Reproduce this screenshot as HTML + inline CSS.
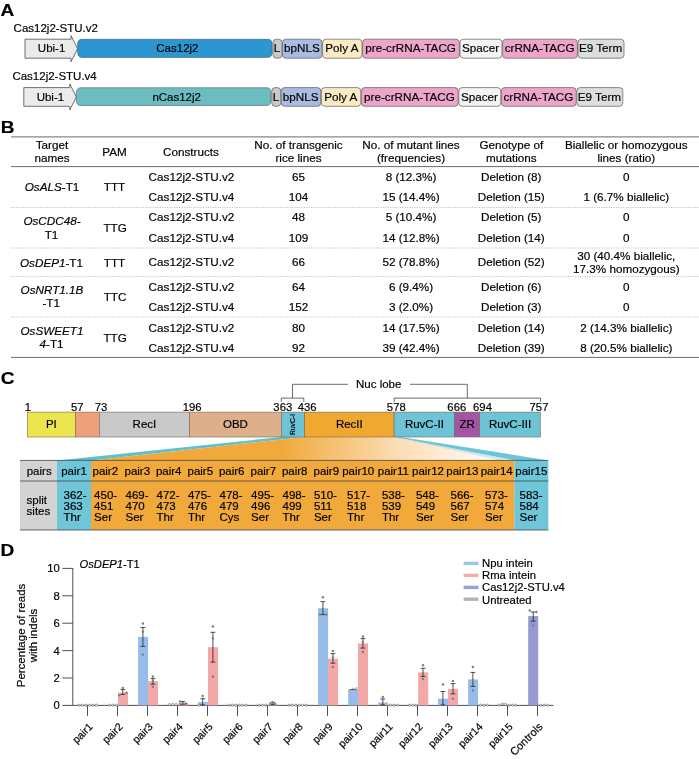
<!DOCTYPE html>
<html><head><meta charset="utf-8"><title>Figure</title>
<style>
html,body{margin:0;padding:0;background:#fff;}
svg{display:block;font-family:"Liberation Sans",Arial,sans-serif;fill:#111;}
svg text{fill:#000;stroke:#000;stroke-width:0.18px;}
</style></head><body>
<svg width="699" height="759" viewBox="0 0 699 759">
<rect x="0" y="0" width="699" height="759" fill="#ffffff"/>
<g id="secA">
<text font-size="16.3" font-weight="bold" transform="translate(0.5,16) scale(1.17,1)">A</text>
<text x="13.6" y="32" font-size="11.5" text-anchor="start" >Cas12j2-STU.v2</text>
<path d="M25,39.2 L71,39.2 L71,35.6 L77.6,48.7 L71,61.800000000000004 L71,58.2 L25,58.2 Z" fill="#ebebeb" stroke="#444" stroke-width="0.75" stroke-linejoin="miter"/>
<text x="51.6" y="52.4" font-size="11.5" text-anchor="middle" >Ubi-1</text>
<rect x="77.6" y="39.300000000000004" width="194.6" height="18.1" rx="4" ry="4.5" fill="#2b96d0" stroke="#3a4a52" stroke-width="0.5"/>
<text x="177.4" y="52.4" font-size="11.5" text-anchor="middle" >Cas12j2</text>
<rect x="273" y="39.2" width="9" height="19.0" rx="3.4" fill="#c9c9c9" stroke="#5c5c5c" stroke-width="0.7"/>
<text x="277.1" y="52.4" font-size="11.7" text-anchor="middle" >L</text>
<rect x="282.5" y="39.2" width="39.5" height="19.0" rx="3.4" fill="#a9bbe0" stroke="#5c5c5c" stroke-width="0.7"/>
<text x="301.85" y="52.4" font-size="11.7" text-anchor="middle" >bpNLS</text>
<rect x="322.6" y="39.2" width="39.39999999999998" height="19.0" rx="3.4" fill="#f9ebc3" stroke="#5c5c5c" stroke-width="0.7"/>
<text x="341.90000000000003" y="52.4" font-size="11.7" text-anchor="middle" >Poly A</text>
<rect x="362.6" y="39.2" width="96.79999999999995" height="19.0" rx="3.4" fill="#eda6c9" stroke="#5c5c5c" stroke-width="0.7"/>
<text x="410.6" y="52.4" font-size="11.7" text-anchor="middle" >pre-crRNA-TACG</text>
<rect x="460" y="39.2" width="42" height="19.0" rx="3.4" fill="#f3f3f1" stroke="#5c5c5c" stroke-width="0.7"/>
<text x="480.6" y="52.4" font-size="11.7" text-anchor="middle" >Spacer</text>
<rect x="502.6" y="39.2" width="74.79999999999995" height="19.0" rx="3.4" fill="#eda6c9" stroke="#5c5c5c" stroke-width="0.7"/>
<text x="539.6" y="52.4" font-size="11.7" text-anchor="middle" >crRNA-TACG</text>
<rect x="578" y="39.2" width="46" height="19.0" rx="3.4" fill="#dcdedd" stroke="#5c5c5c" stroke-width="0.7"/>
<text x="600.6" y="52.4" font-size="11.7" text-anchor="middle" >E9 Term</text>
<text x="12.4" y="79.7" font-size="11.5" text-anchor="start" >Cas12j2-STU.v4</text>
<path d="M23.8,87.6 L69.8,87.6 L69.8,84.0 L76.39999999999999,96.94999999999999 L69.8,109.89999999999999 L69.8,106.3 L23.8,106.3 Z" fill="#ebebeb" stroke="#444" stroke-width="0.75" stroke-linejoin="miter"/>
<text x="50.4" y="100.6" font-size="11.5" text-anchor="middle" >Ubi-1</text>
<rect x="76.39999999999999" y="87.69999999999999" width="194.6" height="17.800000000000004" rx="4" ry="4.5" fill="#6cbdc1" stroke="#3a4a52" stroke-width="0.5"/>
<text x="176.68" y="100.6" font-size="11.5" text-anchor="middle" >nCas12j2</text>
<rect x="271.8" y="87.6" width="9" height="18.700000000000003" rx="3.4" fill="#c9c9c9" stroke="#5c5c5c" stroke-width="0.7"/>
<text x="275.90000000000003" y="100.6" font-size="11.7" text-anchor="middle" >L</text>
<rect x="281.3" y="87.6" width="39.5" height="18.700000000000003" rx="3.4" fill="#a9bbe0" stroke="#5c5c5c" stroke-width="0.7"/>
<text x="300.65000000000003" y="100.6" font-size="11.7" text-anchor="middle" >bpNLS</text>
<rect x="321.40000000000003" y="87.6" width="39.39999999999998" height="18.700000000000003" rx="3.4" fill="#f9ebc3" stroke="#5c5c5c" stroke-width="0.7"/>
<text x="340.70000000000005" y="100.6" font-size="11.7" text-anchor="middle" >Poly A</text>
<rect x="361.40000000000003" y="87.6" width="96.79999999999995" height="18.700000000000003" rx="3.4" fill="#eda6c9" stroke="#5c5c5c" stroke-width="0.7"/>
<text x="409.40000000000003" y="100.6" font-size="11.7" text-anchor="middle" >pre-crRNA-TACG</text>
<rect x="458.8" y="87.6" width="42" height="18.700000000000003" rx="3.4" fill="#f3f3f1" stroke="#5c5c5c" stroke-width="0.7"/>
<text x="479.40000000000003" y="100.6" font-size="11.7" text-anchor="middle" >Spacer</text>
<rect x="501.40000000000003" y="87.6" width="74.79999999999995" height="18.700000000000003" rx="3.4" fill="#eda6c9" stroke="#5c5c5c" stroke-width="0.7"/>
<text x="538.4" y="100.6" font-size="11.7" text-anchor="middle" >crRNA-TACG</text>
<rect x="576.8" y="87.6" width="46" height="18.700000000000003" rx="3.4" fill="#dcdedd" stroke="#5c5c5c" stroke-width="0.7"/>
<text x="599.4" y="100.6" font-size="11.7" text-anchor="middle" >E9 Term</text>
</g>
<g id="secB">
<text font-size="16.3" font-weight="bold" transform="translate(0.7,133) scale(1.17,1)">B</text>
<line x1="11" x2="699" y1="136.9" y2="136.9" stroke="#505050" stroke-width="0.85"/>
<line x1="11" x2="699" y1="166.6" y2="166.6" stroke="#505050" stroke-width="0.85"/>
<line x1="11" x2="699" y1="357.4" y2="357.4" stroke="#505050" stroke-width="0.85"/>
<line x1="11" x2="699" y1="207.5" y2="207.5" stroke="#aaa" stroke-width="0.7" stroke-dasharray="1.2,1.2"/>
<line x1="11" x2="699" y1="248.0" y2="248.0" stroke="#aaa" stroke-width="0.7" stroke-dasharray="1.2,1.2"/>
<line x1="11" x2="699" y1="276.6" y2="276.6" stroke="#aaa" stroke-width="0.7" stroke-dasharray="1.2,1.2"/>
<line x1="11" x2="699" y1="317.0" y2="317.0" stroke="#aaa" stroke-width="0.7" stroke-dasharray="1.2,1.2"/>
<text x="52" y="149.1" font-size="11.7" text-anchor="middle" >Target</text>
<text x="52" y="162.3" font-size="11.7" text-anchor="middle" >names</text>
<text x="114.5" y="155.9" font-size="11.7" text-anchor="middle" >PAM</text>
<text x="191" y="156.1" font-size="11.7" text-anchor="middle" >Constructs</text>
<text x="298.5" y="149.2" font-size="11.7" text-anchor="middle" >No. of transgenic</text>
<text x="298.5" y="162.3" font-size="11.7" text-anchor="middle" >rice lines</text>
<text x="411" y="149.2" font-size="11.7" text-anchor="middle" >No. of mutant lines</text>
<text x="411" y="162.3" font-size="11.7" text-anchor="middle" >(frequencies)</text>
<text x="511.3" y="149.2" font-size="11.7" text-anchor="middle" >Genotype of</text>
<text x="511.3" y="162.3" font-size="11.7" text-anchor="middle" >mutations</text>
<text x="626.3" y="149.2" font-size="11.7" text-anchor="middle" >Biallelic or homozygous</text>
<text x="626.3" y="162.3" font-size="11.7" text-anchor="middle" >lines (ratio)</text>
<text x="148.6" y="180.7" font-size="11.7" text-anchor="start" >Cas12j2-STU.v2</text>
<text x="298.5" y="180.7" font-size="11.7" text-anchor="middle" >65</text>
<text x="411" y="180.7" font-size="11.7" text-anchor="middle" >8 (12.3%)</text>
<text x="511.3" y="180.7" font-size="11.7" text-anchor="middle" >Deletion (8)</text>
<text x="626.3" y="180.7" font-size="11.7" text-anchor="middle" >0</text>
<text x="148.6" y="200.7" font-size="11.7" text-anchor="start" >Cas12j2-STU.v4</text>
<text x="298.5" y="200.7" font-size="11.7" text-anchor="middle" >104</text>
<text x="411" y="200.7" font-size="11.7" text-anchor="middle" >15 (14.4%)</text>
<text x="511.3" y="200.7" font-size="11.7" text-anchor="middle" >Deletion (15)</text>
<text x="626.3" y="200.7" font-size="11.7" text-anchor="middle" >1 (6.7% biallelic)</text>
<text x="148.6" y="221.3" font-size="11.7" text-anchor="start" >Cas12j2-STU.v2</text>
<text x="298.5" y="221.3" font-size="11.7" text-anchor="middle" >48</text>
<text x="411" y="221.3" font-size="11.7" text-anchor="middle" >5 (10.4%)</text>
<text x="511.3" y="221.3" font-size="11.7" text-anchor="middle" >Deletion (5)</text>
<text x="626.3" y="221.3" font-size="11.7" text-anchor="middle" >0</text>
<text x="148.6" y="241.8" font-size="11.7" text-anchor="start" >Cas12j2-STU.v4</text>
<text x="298.5" y="241.8" font-size="11.7" text-anchor="middle" >109</text>
<text x="411" y="241.8" font-size="11.7" text-anchor="middle" >14 (12.8%)</text>
<text x="511.3" y="241.8" font-size="11.7" text-anchor="middle" >Deletion (14)</text>
<text x="626.3" y="241.8" font-size="11.7" text-anchor="middle" >0</text>
<text x="148.6" y="266.4" font-size="11.7" text-anchor="start" >Cas12j2-STU.v2</text>
<text x="298.5" y="266.4" font-size="11.7" text-anchor="middle" >66</text>
<text x="411" y="266.4" font-size="11.7" text-anchor="middle" >52 (78.8%)</text>
<text x="511.3" y="266.4" font-size="11.7" text-anchor="middle" >Deletion (52)</text>
<text x="148.6" y="290.6" font-size="11.7" text-anchor="start" >Cas12j2-STU.v2</text>
<text x="298.5" y="290.6" font-size="11.7" text-anchor="middle" >64</text>
<text x="411" y="290.6" font-size="11.7" text-anchor="middle" >6 (9.4%)</text>
<text x="511.3" y="290.6" font-size="11.7" text-anchor="middle" >Deletion (6)</text>
<text x="626.3" y="290.6" font-size="11.7" text-anchor="middle" >0</text>
<text x="148.6" y="310.6" font-size="11.7" text-anchor="start" >Cas12j2-STU.v4</text>
<text x="298.5" y="310.6" font-size="11.7" text-anchor="middle" >152</text>
<text x="411" y="310.6" font-size="11.7" text-anchor="middle" >3 (2.0%)</text>
<text x="511.3" y="310.6" font-size="11.7" text-anchor="middle" >Deletion (3)</text>
<text x="626.3" y="310.6" font-size="11.7" text-anchor="middle" >0</text>
<text x="148.6" y="331.5" font-size="11.7" text-anchor="start" >Cas12j2-STU.v2</text>
<text x="298.5" y="331.5" font-size="11.7" text-anchor="middle" >80</text>
<text x="411" y="331.5" font-size="11.7" text-anchor="middle" >14 (17.5%)</text>
<text x="511.3" y="331.5" font-size="11.7" text-anchor="middle" >Deletion (14)</text>
<text x="626.3" y="331.5" font-size="11.7" text-anchor="middle" >2 (14.3% biallelic)</text>
<text x="148.6" y="351.6" font-size="11.7" text-anchor="start" >Cas12j2-STU.v4</text>
<text x="298.5" y="351.6" font-size="11.7" text-anchor="middle" >92</text>
<text x="411" y="351.6" font-size="11.7" text-anchor="middle" >39 (42.4%)</text>
<text x="511.3" y="351.6" font-size="11.7" text-anchor="middle" >Deletion (39)</text>
<text x="626.3" y="351.6" font-size="11.7" text-anchor="middle" >8 (20.5% biallelic)</text>
<text x="626.3" y="259.8" font-size="11.7" text-anchor="middle" >30 (40.4% biallelic,</text>
<text x="626.3" y="273.3" font-size="11.7" text-anchor="middle" >17.3% homozygous)</text>
<text x="52" y="190.8" font-size="11.7" text-anchor="middle" ><tspan font-style="italic">OsALS</tspan>-T1</text>
<text x="114.5" y="190.8" font-size="11.7" text-anchor="middle" >TTT</text>
<text x="52" y="225.1" font-size="11.7" text-anchor="middle" ><tspan font-style="italic">OsCDC48-</tspan></text>
<text x="51.5" y="239.0" font-size="11.7" text-anchor="middle" >T1</text>
<text x="115.1" y="231.8" font-size="11.7" text-anchor="middle" >TTG</text>
<text x="51.5" y="266.5" font-size="11.7" text-anchor="middle" ><tspan font-style="italic">OsDEP1</tspan>-T1</text>
<text x="114.5" y="266.5" font-size="11.7" text-anchor="middle" >TTT</text>
<text x="52" y="294.1" font-size="11.7" text-anchor="middle" ><tspan font-style="italic">OsNRT1.1B</tspan></text>
<text x="51.2" y="307.3" font-size="11.7" text-anchor="middle" >-T1</text>
<text x="115.1" y="300.8" font-size="11.7" text-anchor="middle" >TTC</text>
<text x="52" y="334.9" font-size="11.7" text-anchor="middle" ><tspan font-style="italic">OsSWEET1</tspan></text>
<text x="51.5" y="348.2" font-size="11.7" text-anchor="middle" ><tspan font-style="italic">4</tspan>-T1</text>
<text x="115.1" y="341.6" font-size="11.7" text-anchor="middle" >TTG</text>
</g>
<g id="secC">
<text font-size="16.3" font-weight="bold" transform="translate(0.7,384.3) scale(1.17,1)">C</text>
<defs><linearGradient id="og" gradientUnits="userSpaceOnUse" x1="91" x2="514" y1="0" y2="0">
<stop offset="0" stop-color="#f0a93a"/><stop offset="0.45" stop-color="#f0a93a"/><stop offset="0.72" stop-color="#fbdcb4"/><stop offset="0.92" stop-color="#fff8f0"/><stop offset="1" stop-color="#ffffff"/></linearGradient>
<linearGradient id="tg" gradientUnits="userSpaceOnUse" x1="394" x2="548" y1="437" y2="460"><stop offset="0" stop-color="#6ec6d8"/><stop offset="1" stop-color="#6ec6d8"/></linearGradient></defs>
<polygon points="281.3,437.0 304.6,437.0 91,460.4 57,460.4" fill="#5fc0d4"/>
<polygon points="394.1,437.0 400,437.0 548.3,460.4 514.4,460.4" fill="#6ec6d8"/>
<polygon points="304.6,437.0 394.1,437.0 514.4,460.4 91,460.4" fill="url(#og)"/>
<polygon points="394.1,437.0 403,437.0 548.3,460.4 500,460.4" fill="#6ec6d8" opacity="0.3"/>
<rect x="27.4" y="412.1" width="48.00000000000001" height="24.899999999999977" fill="#ece54f" stroke="#7a6a4a" stroke-width="0.6"/>
<text x="51.400000000000006" y="428.4" font-size="11.5" text-anchor="middle" >PI</text>
<rect x="75.4" y="412.1" width="23.89999999999999" height="24.899999999999977" fill="#eca17c" stroke="#7a6a4a" stroke-width="0.6"/>
<rect x="99.3" y="412.1" width="90.3" height="24.899999999999977" fill="#c9c9c9" stroke="#7a6a4a" stroke-width="0.6"/>
<text x="144.45" y="428.4" font-size="11.5" text-anchor="middle" >RecI</text>
<rect x="189.6" y="412.1" width="91.70000000000002" height="24.899999999999977" fill="#ddb08b" stroke="#7a6a4a" stroke-width="0.6"/>
<text x="235.45" y="428.4" font-size="11.5" text-anchor="middle" >OBD</text>
<rect x="281.3" y="412.1" width="23.30000000000001" height="24.899999999999977" fill="#6dc4d6" stroke="#7a6a4a" stroke-width="0.6"/>
<rect x="304.6" y="412.1" width="89.5" height="24.899999999999977" fill="#f0a830" stroke="#7a6a4a" stroke-width="0.6"/>
<text x="349.35" y="428.4" font-size="11.5" text-anchor="middle" >RecII</text>
<rect x="394.1" y="412.1" width="60.599999999999966" height="24.899999999999977" fill="#6dc4d6" stroke="#7a6a4a" stroke-width="0.6"/>
<text x="424.4" y="428.4" font-size="11.5" text-anchor="middle" >RuvC-II</text>
<rect x="454.7" y="412.1" width="25.0" height="24.899999999999977" fill="#a454a6" stroke="#7a6a4a" stroke-width="0.6"/>
<text x="467.2" y="428.4" font-size="11.5" text-anchor="middle" >ZR</text>
<rect x="479.7" y="412.1" width="60.599999999999966" height="24.899999999999977" fill="#6dc4d6" stroke="#7a6a4a" stroke-width="0.6"/>
<text x="510.0" y="428.4" font-size="11.5" text-anchor="middle" >RuvC-III</text>
<text font-size="6.8" text-anchor="middle" transform="translate(295.3,424.5) rotate(-90)">RuvC-I</text>
<text x="24.8" y="410.9" font-size="11.3" text-anchor="start" >1</text>
<text x="77.3" y="410.9" font-size="11.3" text-anchor="middle" >57</text>
<text x="101" y="410.9" font-size="11.3" text-anchor="middle" >73</text>
<text x="192.2" y="410.9" font-size="11.3" text-anchor="middle" >196</text>
<text x="282.8" y="410.9" font-size="11.3" text-anchor="middle" >363</text>
<text x="307.2" y="410.9" font-size="11.3" text-anchor="middle" >436</text>
<text x="396.3" y="410.9" font-size="11.3" text-anchor="middle" >578</text>
<text x="456.8" y="410.9" font-size="11.3" text-anchor="middle" >666</text>
<text x="482.5" y="410.9" font-size="11.3" text-anchor="middle" >694</text>
<text x="539" y="410.9" font-size="11.3" text-anchor="middle" >757</text>
<path d="M281.3,401.9 V398.1 H303.8 V401.9 M292.5,398.1 V384.3 H348" fill="none" stroke="#3a3a3a" stroke-width="0.75"/>
<path d="M394.2,401.9 V398.1 H540.5 V401.9 M467.3,398.1 V384.3 H410" fill="none" stroke="#3a3a3a" stroke-width="0.75"/>
<text x="378.7" y="388.2" font-size="11.5" text-anchor="middle" >Nuc lobe</text>
<rect x="20" y="460.4" width="37" height="69.60000000000002" fill="#d3d3d3"/>
<rect x="57" y="460.4" width="34" height="69.60000000000002" fill="#6ec6d8"/>
<rect x="91" y="460.4" width="423.4" height="69.60000000000002" fill="#f0a93a"/>
<rect x="514.4" y="460.4" width="33.89999999999998" height="69.60000000000002" fill="#6ec6d8"/>
<line x1="20" x2="548.3" y1="460.4" y2="460.4" stroke="#3c3c3c" stroke-width="0.75"/>
<line x1="20" x2="548.3" y1="481.0" y2="481.0" stroke="#3c3c3c" stroke-width="0.75"/>
<line x1="20" x2="548.3" y1="530.0" y2="530.0" stroke="#3c3c3c" stroke-width="0.75"/>
<text x="39.2" y="475.4" font-size="11.5" text-anchor="middle" >pairs</text>
<text x="26.6" y="504.4" font-size="11.5" text-anchor="start" >split</text>
<text x="26.6" y="515.4" font-size="11.5" text-anchor="start" >sites</text>
<text x="74" y="475.4" font-size="11.5" text-anchor="middle" >pair1</text>
<text x="63.5" y="498.6" font-size="11.5" text-anchor="start" >362-</text>
<text x="63.5" y="509.6" font-size="11.5" text-anchor="start" >363</text>
<text x="63.5" y="520.6" font-size="11.5" text-anchor="start" >Thr</text>
<text x="105.3" y="475.4" font-size="11.5" text-anchor="middle" >pair2</text>
<text x="94.1" y="498.6" font-size="11.5" text-anchor="start" >450-</text>
<text x="94.1" y="509.6" font-size="11.5" text-anchor="start" >451</text>
<text x="94.1" y="520.6" font-size="11.5" text-anchor="start" >Ser</text>
<text x="137.3" y="475.4" font-size="11.5" text-anchor="middle" >pair3</text>
<text x="125.5" y="498.6" font-size="11.5" text-anchor="start" >469-</text>
<text x="125.5" y="509.6" font-size="11.5" text-anchor="start" >470</text>
<text x="125.5" y="520.6" font-size="11.5" text-anchor="start" >Ser</text>
<text x="168.7" y="475.4" font-size="11.5" text-anchor="middle" >pair4</text>
<text x="156.5" y="498.6" font-size="11.5" text-anchor="start" >472-</text>
<text x="156.5" y="509.6" font-size="11.5" text-anchor="start" >473</text>
<text x="156.5" y="520.6" font-size="11.5" text-anchor="start" >Thr</text>
<text x="200.3" y="475.4" font-size="11.5" text-anchor="middle" >pair5</text>
<text x="187.9" y="498.6" font-size="11.5" text-anchor="start" >475-</text>
<text x="187.9" y="509.6" font-size="11.5" text-anchor="start" >476</text>
<text x="187.9" y="520.6" font-size="11.5" text-anchor="start" >Thr</text>
<text x="231.7" y="475.4" font-size="11.5" text-anchor="middle" >pair6</text>
<text x="219.5" y="498.6" font-size="11.5" text-anchor="start" >478-</text>
<text x="219.5" y="509.6" font-size="11.5" text-anchor="start" >479</text>
<text x="219.5" y="520.6" font-size="11.5" text-anchor="start" >Cys</text>
<text x="263.3" y="475.4" font-size="11.5" text-anchor="middle" >pair7</text>
<text x="251.1" y="498.6" font-size="11.5" text-anchor="start" >495-</text>
<text x="251.1" y="509.6" font-size="11.5" text-anchor="start" >496</text>
<text x="251.1" y="520.6" font-size="11.5" text-anchor="start" >Ser</text>
<text x="294.7" y="475.4" font-size="11.5" text-anchor="middle" >pair8</text>
<text x="282.5" y="498.6" font-size="11.5" text-anchor="start" >498-</text>
<text x="282.5" y="509.6" font-size="11.5" text-anchor="start" >499</text>
<text x="282.5" y="520.6" font-size="11.5" text-anchor="start" >Thr</text>
<text x="326.3" y="475.4" font-size="11.5" text-anchor="middle" >pair9</text>
<text x="313.9" y="498.6" font-size="11.5" text-anchor="start" >510-</text>
<text x="313.9" y="509.6" font-size="11.5" text-anchor="start" >511</text>
<text x="313.9" y="520.6" font-size="11.5" text-anchor="start" >Ser</text>
<text x="358.2" y="475.4" font-size="11.5" text-anchor="middle" >pair10</text>
<text x="347.1" y="498.6" font-size="11.5" text-anchor="start" >517-</text>
<text x="347.1" y="509.6" font-size="11.5" text-anchor="start" >518</text>
<text x="347.1" y="520.6" font-size="11.5" text-anchor="start" >Thr</text>
<text x="393.3" y="475.4" font-size="11.5" text-anchor="middle" >pair11</text>
<text x="381.9" y="498.6" font-size="11.5" text-anchor="start" >538-</text>
<text x="381.9" y="509.6" font-size="11.5" text-anchor="start" >539</text>
<text x="381.9" y="520.6" font-size="11.5" text-anchor="start" >Thr</text>
<text x="428" y="475.4" font-size="11.5" text-anchor="middle" >pair12</text>
<text x="415.9" y="498.6" font-size="11.5" text-anchor="start" >548-</text>
<text x="415.9" y="509.6" font-size="11.5" text-anchor="start" >549</text>
<text x="415.9" y="520.6" font-size="11.5" text-anchor="start" >Ser</text>
<text x="462.3" y="475.4" font-size="11.5" text-anchor="middle" >pair13</text>
<text x="450.5" y="498.6" font-size="11.5" text-anchor="start" >566-</text>
<text x="450.5" y="509.6" font-size="11.5" text-anchor="start" >567</text>
<text x="450.5" y="520.6" font-size="11.5" text-anchor="start" >Ser</text>
<text x="496.7" y="475.4" font-size="11.5" text-anchor="middle" >pair14</text>
<text x="484.9" y="498.6" font-size="11.5" text-anchor="start" >573-</text>
<text x="484.9" y="509.6" font-size="11.5" text-anchor="start" >574</text>
<text x="484.9" y="520.6" font-size="11.5" text-anchor="start" >Ser</text>
<text x="531.3" y="475.4" font-size="11.5" text-anchor="middle" >pair15</text>
<text x="519.5" y="498.6" font-size="11.5" text-anchor="start" >583-</text>
<text x="519.5" y="509.6" font-size="11.5" text-anchor="start" >584</text>
<text x="519.5" y="520.6" font-size="11.5" text-anchor="start" >Ser</text>
</g>
<g id="secD">
<text font-size="16.3" font-weight="bold" transform="translate(0.5,555.5) scale(1.17,1)">D</text>
<path d="M72.8,568.0 V705.4 H553.5" stroke="#3c3c3c" stroke-width="0.9" fill="none"/>
<line x1="62.3" x2="72.8" y1="705.4" y2="705.4" stroke="#3c3c3c" stroke-width="0.9" fill="none"/>
<text x="59.8" y="709.4" font-size="11.3" text-anchor="end" >0</text>
<line x1="62.3" x2="72.8" y1="678.0" y2="678.0" stroke="#3c3c3c" stroke-width="0.9" fill="none"/>
<text x="59.8" y="682.0" font-size="11.3" text-anchor="end" >2</text>
<line x1="62.3" x2="72.8" y1="650.6" y2="650.6" stroke="#3c3c3c" stroke-width="0.9" fill="none"/>
<text x="59.8" y="654.6" font-size="11.3" text-anchor="end" >4</text>
<line x1="62.3" x2="72.8" y1="623.2" y2="623.2" stroke="#3c3c3c" stroke-width="0.9" fill="none"/>
<text x="59.8" y="627.2" font-size="11.3" text-anchor="end" >6</text>
<line x1="62.3" x2="72.8" y1="595.8" y2="595.8" stroke="#3c3c3c" stroke-width="0.9" fill="none"/>
<text x="59.8" y="599.8" font-size="11.3" text-anchor="end" >8</text>
<line x1="62.3" x2="72.8" y1="568.4" y2="568.4" stroke="#3c3c3c" stroke-width="0.9" fill="none"/>
<text x="59.8" y="572.4" font-size="11.3" text-anchor="end" >10</text>
<line x1="87.5" x2="87.5" y1="705.4" y2="715.8" stroke="#3c3c3c" stroke-width="0.9" fill="none"/>
<text font-size="10.6" text-anchor="end" transform="translate(93.4,727.4) rotate(-45)">pair1</text>
<line x1="117.5" x2="117.5" y1="705.4" y2="715.8" stroke="#3c3c3c" stroke-width="0.9" fill="none"/>
<text font-size="10.6" text-anchor="end" transform="translate(123.4,727.4) rotate(-45)">pair2</text>
<line x1="147.5" x2="147.5" y1="705.4" y2="715.8" stroke="#3c3c3c" stroke-width="0.9" fill="none"/>
<text font-size="10.6" text-anchor="end" transform="translate(153.4,727.4) rotate(-45)">pair3</text>
<line x1="177.5" x2="177.5" y1="705.4" y2="715.8" stroke="#3c3c3c" stroke-width="0.9" fill="none"/>
<text font-size="10.6" text-anchor="end" transform="translate(183.4,727.4) rotate(-45)">pair4</text>
<line x1="207.5" x2="207.5" y1="705.4" y2="715.8" stroke="#3c3c3c" stroke-width="0.9" fill="none"/>
<text font-size="10.6" text-anchor="end" transform="translate(213.4,727.4) rotate(-45)">pair5</text>
<line x1="237.5" x2="237.5" y1="705.4" y2="715.8" stroke="#3c3c3c" stroke-width="0.9" fill="none"/>
<text font-size="10.6" text-anchor="end" transform="translate(243.4,727.4) rotate(-45)">pair6</text>
<line x1="267.5" x2="267.5" y1="705.4" y2="715.8" stroke="#3c3c3c" stroke-width="0.9" fill="none"/>
<text font-size="10.6" text-anchor="end" transform="translate(273.4,727.4) rotate(-45)">pair7</text>
<line x1="297.5" x2="297.5" y1="705.4" y2="715.8" stroke="#3c3c3c" stroke-width="0.9" fill="none"/>
<text font-size="10.6" text-anchor="end" transform="translate(303.4,727.4) rotate(-45)">pair8</text>
<line x1="327.5" x2="327.5" y1="705.4" y2="715.8" stroke="#3c3c3c" stroke-width="0.9" fill="none"/>
<text font-size="10.6" text-anchor="end" transform="translate(333.4,727.4) rotate(-45)">pair9</text>
<line x1="357.5" x2="357.5" y1="705.4" y2="715.8" stroke="#3c3c3c" stroke-width="0.9" fill="none"/>
<text font-size="10.6" text-anchor="end" transform="translate(363.4,727.4) rotate(-45)">pair10</text>
<line x1="387.5" x2="387.5" y1="705.4" y2="715.8" stroke="#3c3c3c" stroke-width="0.9" fill="none"/>
<text font-size="10.6" text-anchor="end" transform="translate(393.4,727.4) rotate(-45)">pair11</text>
<line x1="417.5" x2="417.5" y1="705.4" y2="715.8" stroke="#3c3c3c" stroke-width="0.9" fill="none"/>
<text font-size="10.6" text-anchor="end" transform="translate(423.4,727.4) rotate(-45)">pair12</text>
<line x1="447.5" x2="447.5" y1="705.4" y2="715.8" stroke="#3c3c3c" stroke-width="0.9" fill="none"/>
<text font-size="10.6" text-anchor="end" transform="translate(453.4,727.4) rotate(-45)">pair13</text>
<line x1="477.5" x2="477.5" y1="705.4" y2="715.8" stroke="#3c3c3c" stroke-width="0.9" fill="none"/>
<text font-size="10.6" text-anchor="end" transform="translate(483.4,727.4) rotate(-45)">pair14</text>
<line x1="507.5" x2="507.5" y1="705.4" y2="715.8" stroke="#3c3c3c" stroke-width="0.9" fill="none"/>
<text font-size="10.6" text-anchor="end" transform="translate(513.4,727.4) rotate(-45)">pair15</text>
<line x1="537.5" x2="537.5" y1="705.4" y2="715.8" stroke="#3c3c3c" stroke-width="0.9" fill="none"/>
<text font-size="11.0" text-anchor="end" transform="translate(543.4,727.4) rotate(-45)">Controls</text>
<text x="79.5" y="567.5" font-size="11.2" text-anchor="start" ><tspan font-style="italic">OsDEP1</tspan>-T1</text>
<text font-size="11.5" text-anchor="middle" transform="translate(24.9,635.5) rotate(-90)">Percentage of reads</text>
<text font-size="11.5" text-anchor="middle" transform="translate(36.5,635.5) rotate(-90)">with indels</text>
<rect x="118.0" y="692.7" width="10" height="12.699999999999932" fill="#f3a7a7"/>
<rect x="138.1" y="636.9" width="10" height="68.5" fill="#96bdea"/>
<rect x="148.0" y="681.2" width="10" height="24.199999999999932" fill="#f3a7a7"/>
<rect x="178.0" y="703.0" width="10" height="2.3999999999999773" fill="#f3a7a7"/>
<rect x="198.2" y="702.1" width="10" height="3.2999999999999545" fill="#96bdea"/>
<rect x="208.0" y="647.2" width="10" height="58.19999999999993" fill="#f3a7a7"/>
<rect x="268.0" y="704.5" width="10" height="0.8999999999999773" fill="#f3a7a7"/>
<rect x="318.1" y="608.2" width="10" height="97.19999999999993" fill="#96bdea"/>
<rect x="328.0" y="658.7" width="10" height="46.69999999999993" fill="#f3a7a7"/>
<rect x="348.2" y="689.6" width="10" height="15.799999999999955" fill="#96bdea"/>
<rect x="358.0" y="643.4" width="10" height="62.0" fill="#f3a7a7"/>
<rect x="378.2" y="702.5" width="10" height="2.8999999999999773" fill="#96bdea"/>
<rect x="418.2" y="672.4" width="10" height="33.0" fill="#f3a7a7"/>
<rect x="438.0" y="698.7" width="10" height="6.699999999999932" fill="#96bdea"/>
<rect x="448.0" y="688.9" width="10" height="16.5" fill="#f3a7a7"/>
<rect x="468.1" y="679.5" width="10" height="25.899999999999977" fill="#96bdea"/>
<rect x="528.2" y="616.1" width="10" height="89.29999999999995" fill="#959ad3"/>
<circle cx="79.0" cy="705.1999999999999" r="1.1" fill="#fff" stroke="#6a6a6a" stroke-width="0.7"/>
<circle cx="82.5" cy="705.1999999999999" r="1.1" fill="#fff" stroke="#6a6a6a" stroke-width="0.7"/>
<circle cx="86.0" cy="705.1999999999999" r="1.1" fill="#fff" stroke="#6a6a6a" stroke-width="0.7"/>
<circle cx="89.5" cy="705.1999999999999" r="1.1" fill="#fff" stroke="#6a6a6a" stroke-width="0.7"/>
<circle cx="93.0" cy="705.1999999999999" r="1.1" fill="#fff" stroke="#6a6a6a" stroke-width="0.7"/>
<circle cx="96.5" cy="705.1999999999999" r="1.1" fill="#fff" stroke="#6a6a6a" stroke-width="0.7"/>
<circle cx="109.3" cy="705.1999999999999" r="1.1" fill="#fff" stroke="#6a6a6a" stroke-width="0.7"/>
<circle cx="112.8" cy="705.1999999999999" r="1.1" fill="#fff" stroke="#6a6a6a" stroke-width="0.7"/>
<circle cx="116.3" cy="705.1999999999999" r="1.1" fill="#fff" stroke="#6a6a6a" stroke-width="0.7"/>
<circle cx="169.3" cy="704.5999999999999" r="1.1" fill="#fff" stroke="#6a6a6a" stroke-width="0.7"/>
<circle cx="172.70000000000002" cy="704.5999999999999" r="1.1" fill="#fff" stroke="#6a6a6a" stroke-width="0.7"/>
<circle cx="176.10000000000002" cy="704.5999999999999" r="1.1" fill="#fff" stroke="#6a6a6a" stroke-width="0.7"/>
<circle cx="199.0" cy="705.1999999999999" r="1.1" fill="#fff" stroke="#6a6a6a" stroke-width="0.7"/>
<circle cx="229.0" cy="705.1999999999999" r="1.1" fill="#fff" stroke="#6a6a6a" stroke-width="0.7"/>
<circle cx="232.4" cy="705.1999999999999" r="1.1" fill="#fff" stroke="#6a6a6a" stroke-width="0.7"/>
<circle cx="235.8" cy="705.1999999999999" r="1.1" fill="#fff" stroke="#6a6a6a" stroke-width="0.7"/>
<circle cx="239.2" cy="705.1999999999999" r="1.1" fill="#fff" stroke="#6a6a6a" stroke-width="0.7"/>
<circle cx="242.6" cy="705.1999999999999" r="1.1" fill="#fff" stroke="#6a6a6a" stroke-width="0.7"/>
<circle cx="246.0" cy="705.1999999999999" r="1.1" fill="#fff" stroke="#6a6a6a" stroke-width="0.7"/>
<circle cx="259.0" cy="705.1999999999999" r="1.1" fill="#fff" stroke="#6a6a6a" stroke-width="0.7"/>
<circle cx="262.4" cy="705.1999999999999" r="1.1" fill="#fff" stroke="#6a6a6a" stroke-width="0.7"/>
<circle cx="265.8" cy="705.1999999999999" r="1.1" fill="#fff" stroke="#6a6a6a" stroke-width="0.7"/>
<circle cx="289.0" cy="705.1999999999999" r="1.1" fill="#fff" stroke="#6a6a6a" stroke-width="0.7"/>
<circle cx="292.4" cy="705.1999999999999" r="1.1" fill="#fff" stroke="#6a6a6a" stroke-width="0.7"/>
<circle cx="295.8" cy="705.1999999999999" r="1.1" fill="#fff" stroke="#6a6a6a" stroke-width="0.7"/>
<circle cx="299.2" cy="705.1999999999999" r="1.1" fill="#fff" stroke="#6a6a6a" stroke-width="0.7"/>
<circle cx="302.6" cy="705.1999999999999" r="1.1" fill="#fff" stroke="#6a6a6a" stroke-width="0.7"/>
<circle cx="306.0" cy="705.1999999999999" r="1.1" fill="#fff" stroke="#6a6a6a" stroke-width="0.7"/>
<circle cx="390.5" cy="705.1999999999999" r="1.1" fill="#fff" stroke="#6a6a6a" stroke-width="0.7"/>
<circle cx="393.9" cy="705.1999999999999" r="1.1" fill="#fff" stroke="#6a6a6a" stroke-width="0.7"/>
<circle cx="397.3" cy="705.1999999999999" r="1.1" fill="#fff" stroke="#6a6a6a" stroke-width="0.7"/>
<circle cx="409.2" cy="705.1999999999999" r="1.1" fill="#fff" stroke="#6a6a6a" stroke-width="0.7"/>
<circle cx="412.59999999999997" cy="705.1999999999999" r="1.1" fill="#fff" stroke="#6a6a6a" stroke-width="0.7"/>
<circle cx="416.0" cy="705.1999999999999" r="1.1" fill="#fff" stroke="#6a6a6a" stroke-width="0.7"/>
<circle cx="480.5" cy="705.1999999999999" r="1.1" fill="#fff" stroke="#6a6a6a" stroke-width="0.7"/>
<circle cx="483.9" cy="705.1999999999999" r="1.1" fill="#fff" stroke="#6a6a6a" stroke-width="0.7"/>
<circle cx="487.3" cy="705.1999999999999" r="1.1" fill="#fff" stroke="#6a6a6a" stroke-width="0.7"/>
<circle cx="499.0" cy="705.1999999999999" r="1.1" fill="#fff" stroke="#6a6a6a" stroke-width="0.7"/>
<circle cx="502.4" cy="704.0999999999999" r="1.1" fill="#fff" stroke="#6a6a6a" stroke-width="0.7"/>
<circle cx="505.4" cy="704.4" r="1.1" fill="#fff" stroke="#6a6a6a" stroke-width="0.7"/>
<circle cx="509.2" cy="705.1999999999999" r="1.1" fill="#fff" stroke="#6a6a6a" stroke-width="0.7"/>
<circle cx="512.6" cy="705.1999999999999" r="1.1" fill="#fff" stroke="#6a6a6a" stroke-width="0.7"/>
<circle cx="516.0" cy="705.1999999999999" r="1.1" fill="#fff" stroke="#6a6a6a" stroke-width="0.7"/>
<circle cx="540.5" cy="705.1999999999999" r="1.1" fill="#fff" stroke="#6a6a6a" stroke-width="0.7"/>
<circle cx="544.1" cy="705.1999999999999" r="1.1" fill="#fff" stroke="#6a6a6a" stroke-width="0.7"/>
<circle cx="547.7" cy="705.1999999999999" r="1.1" fill="#fff" stroke="#6a6a6a" stroke-width="0.7"/>
<path d="M122.8,689.6 V694.4 M120.39999999999999,689.6 H125.2 M120.39999999999999,694.4 H125.2" stroke="#222" stroke-width="0.8" fill="none"/>
<circle cx="122.8" cy="687.9" r="1.25" fill="#808080"/>
<circle cx="119.2" cy="695.3" r="1.25" fill="#808080"/>
<circle cx="126.6" cy="692.7" r="1.25" fill="#808080"/>
<path d="M142.9,627.5 V646.4 M140.5,627.5 H145.3 M140.5,646.4 H145.3" stroke="#222" stroke-width="0.8" fill="none"/>
<circle cx="142.9" cy="623.5" r="1.25" fill="#808080"/>
<circle cx="142.9" cy="631.8" r="1.25" fill="#808080"/>
<circle cx="142.9" cy="654.4" r="1.25" fill="#808080"/>
<path d="M152.9,678.6 V684.1 M150.5,678.6 H155.3 M150.5,684.1 H155.3" stroke="#222" stroke-width="0.8" fill="none"/>
<circle cx="152.9" cy="676.4" r="1.25" fill="#808080"/>
<circle cx="152.9" cy="681" r="1.25" fill="#808080"/>
<circle cx="152.9" cy="686.7" r="1.25" fill="#808080"/>
<path d="M182.5,701.6 V704.2 M180.1,701.6 H184.9 M180.1,704.2 H184.9" stroke="#222" stroke-width="0.8" fill="none"/>
<circle cx="180" cy="701.5" r="1.25" fill="#808080"/>
<circle cx="183" cy="703.2" r="1.25" fill="#808080"/>
<circle cx="186" cy="703.5" r="1.25" fill="#808080"/>
<path d="M272.6,702.6 V704.4 M270.20000000000005,702.6 H275.0 M270.20000000000005,704.4 H275.0" stroke="#222" stroke-width="0.8" fill="none"/>
<circle cx="270.3" cy="703.8" r="1.25" fill="#808080"/>
<circle cx="272.6" cy="702.2" r="1.25" fill="#808080"/>
<circle cx="275.2" cy="703.9" r="1.25" fill="#808080"/>
<path d="M202.7,698.7 V705.0 M200.29999999999998,698.7 H205.1 M200.29999999999998,705.0 H205.1" stroke="#222" stroke-width="0.8" fill="none"/>
<circle cx="202.7" cy="696.1" r="1.25" fill="#808080"/>
<path d="M212.9,632.3 V662.1 M210.5,632.3 H215.3 M210.5,662.1 H215.3" stroke="#222" stroke-width="0.8" fill="none"/>
<circle cx="212.9" cy="626.6" r="1.25" fill="#808080"/>
<circle cx="212.9" cy="638.6" r="1.25" fill="#808080"/>
<circle cx="212.9" cy="676.4" r="1.25" fill="#808080"/>
<path d="M322.9,601.7 V614.6 M320.5,601.7 H325.29999999999995 M320.5,614.6 H325.29999999999995" stroke="#222" stroke-width="0.8" fill="none"/>
<circle cx="322.9" cy="597.2" r="1.25" fill="#808080"/>
<circle cx="319.8" cy="614.6" r="1.25" fill="#808080"/>
<circle cx="326.4" cy="614.6" r="1.25" fill="#808080"/>
<path d="M332.9,653.6 V663.2 M330.5,653.6 H335.29999999999995 M330.5,663.2 H335.29999999999995" stroke="#222" stroke-width="0.8" fill="none"/>
<circle cx="332.9" cy="651" r="1.25" fill="#808080"/>
<circle cx="332.9" cy="657.5" r="1.25" fill="#808080"/>
<circle cx="332.9" cy="667" r="1.25" fill="#808080"/>
<path d="M362.9,638.6 V648.1 M360.5,638.6 H365.29999999999995 M360.5,648.1 H365.29999999999995" stroke="#222" stroke-width="0.8" fill="none"/>
<circle cx="362.9" cy="636.4" r="1.25" fill="#808080"/>
<circle cx="362.9" cy="642" r="1.25" fill="#808080"/>
<circle cx="362.9" cy="652" r="1.25" fill="#808080"/>
<path d="M382.8,699.0 V705.0 M380.40000000000003,699.0 H385.2 M380.40000000000003,705.0 H385.2" stroke="#222" stroke-width="0.8" fill="none"/>
<circle cx="382.8" cy="697" r="1.25" fill="#808080"/>
<path d="M423.0,668.3 V676.4 M420.6,668.3 H425.4 M420.6,676.4 H425.4" stroke="#222" stroke-width="0.8" fill="none"/>
<circle cx="423" cy="665.2" r="1.25" fill="#808080"/>
<circle cx="423" cy="673.5" r="1.25" fill="#808080"/>
<circle cx="423" cy="679" r="1.25" fill="#808080"/>
<path d="M442.9,691.5 V705.0 M440.5,691.5 H445.29999999999995 M440.5,705.0 H445.29999999999995" stroke="#222" stroke-width="0.8" fill="none"/>
<circle cx="442.9" cy="684.6" r="1.25" fill="#808080"/>
<path d="M453.0,683.6 V693.9 M450.6,683.6 H455.4 M450.6,693.9 H455.4" stroke="#222" stroke-width="0.8" fill="none"/>
<circle cx="453" cy="681" r="1.25" fill="#808080"/>
<circle cx="453" cy="690" r="1.25" fill="#808080"/>
<circle cx="453" cy="698.7" r="1.25" fill="#808080"/>
<path d="M472.9,672.4 V686.4 M470.5,672.4 H475.29999999999995 M470.5,686.4 H475.29999999999995" stroke="#222" stroke-width="0.8" fill="none"/>
<circle cx="472.9" cy="667" r="1.25" fill="#808080"/>
<circle cx="472.9" cy="680" r="1.25" fill="#808080"/>
<circle cx="472.9" cy="690.5" r="1.25" fill="#808080"/>
<path d="M533.2,612.0 V621.2 M530.8000000000001,612.0 H535.6 M530.8000000000001,621.2 H535.6" stroke="#222" stroke-width="0.8" fill="none"/>
<circle cx="529.8" cy="610.6" r="1.25" fill="#808080"/>
<circle cx="536.3" cy="612" r="1.25" fill="#808080"/>
<circle cx="533.2" cy="625.5" r="1.25" fill="#808080"/>
<circle cx="349.6" cy="691" r="1.0" fill="#ddd" stroke="#777" stroke-width="0.45"/>
<circle cx="353" cy="688.9" r="1.0" fill="#ddd" stroke="#777" stroke-width="0.45"/>
<circle cx="356.4" cy="688.4" r="1.0" fill="#ddd" stroke="#777" stroke-width="0.45"/>
<path d="M349.6,689.6 H356.6" stroke="#333" stroke-width="0.7"/>
<rect x="463.6" y="561.6999999999999" width="14.8" height="3.4" fill="#9cc3ee"/>
<text x="482.0" y="566.6" font-size="11.3" text-anchor="start" >Npu intein</text>
<rect x="463.6" y="573.6999999999999" width="14.8" height="3.4" fill="#f5abab"/>
<text x="482.0" y="578.7" font-size="11.3" text-anchor="start" >Rma intein</text>
<rect x="463.6" y="585.6999999999999" width="14.8" height="3.4" fill="#9a9fd6"/>
<text x="482.0" y="591.2" font-size="11.3" text-anchor="start" >Cas12j2-STU.v4</text>
<rect x="463.6" y="597.5" width="14.8" height="3.4" fill="#b3b3b3"/>
<text x="482.0" y="603.5" font-size="11.3" text-anchor="start" >Untreated</text>
</g>
</svg>
</body></html>
